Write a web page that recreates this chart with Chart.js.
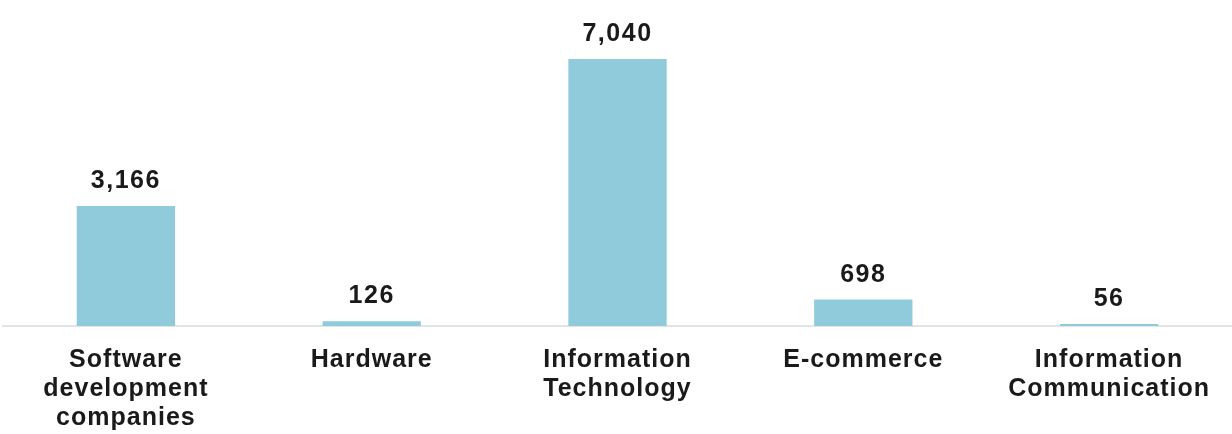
<!DOCTYPE html>
<html>
<head>
<meta charset="utf-8">
<script src="https://cdn.jsdelivr.net/npm/chart.js@4"></script>
<style>
  html, body { margin: 0; padding: 0; background: #ffffff; }
  #wrap { width: 1232px; height: 434px; }
</style>
</head>
<body>
<div id="wrap"><canvas id="chart"></canvas></div>
<script>
const categories = [
  ['Software', 'development', 'companies'],
  ['Hardware'],
  ['Information', 'Technology'],
  ['E-commerce'],
  ['Information', 'Communication']
];
const counts = [3166, 126, 7040, 698, 56];

const FONT = '"Liberation Sans", Arial, Helvetica, sans-serif';

// the source font is a bit wider than Liberation Sans
const spacing = {
  id: 'spacing',
  beforeUpdate(chart) { chart.ctx.letterSpacing = '1px'; },
  beforeDraw(chart) { chart.ctx.letterSpacing = '1px'; }
};

// value labels above the bars
const valueLabels = {
  id: 'valueLabels',
  afterDatasetsDraw(chart) {
    const ctx = chart.ctx;
    const meta = chart.getDatasetMeta(0);
    ctx.save();
    ctx.letterSpacing = '1.5px';
    ctx.font = 'bold 25px ' + FONT;
    ctx.fillStyle = '#1a1a1a';
    ctx.textAlign = 'center';
    ctx.textBaseline = 'alphabetic';
    meta.data.forEach((bar, i) => {
      ctx.fillText(counts[i].toLocaleString('en-US'), bar.x, bar.y - 18);
    });
    ctx.restore();
  }
};

new Chart(
  document.getElementById('chart'),
  {
    type: 'bar',
    data: {
      labels: categories,
      datasets: [{
        data: counts,
        backgroundColor: '#90cbdb',
        barPercentage: 0.4,
        categoryPercentage: 1.0,
      }]
    },
    plugins: [spacing, valueLabels],
    options: {
      responsive: true,
      maintainAspectRatio: false,
      animation: false,
      layout: {
        padding: { top: 59, left: 3, right: 0, bottom: 0 }
      },
      plugins: {
        legend: { display: false },
        tooltip: { enabled: false },
      },
      scales: {
        x: {
          afterFit(scale) { scale.height = 108; },
          grid: {
            display: false,
            drawTicks: false,
          },
          border: {
            display: true,
            color: '#e4e4e4',
            width: 2,
          },
          ticks: {
            padding: 20,
            color: '#1a1a1a',
            maxRotation: 0,
            autoSkip: false,
            font: { family: FONT, size: 25, weight: 'bold', lineHeight: 1.15 },
          },
        },
        y: {
          display: false,
          min: 0,
          max: 7040,
        }
      }
    }
  }
);
</script>
</body>
</html>
